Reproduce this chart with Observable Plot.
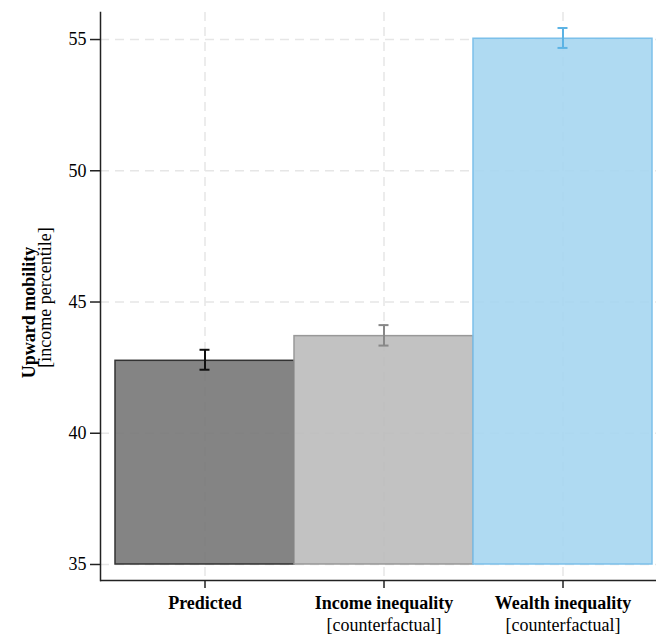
<!DOCTYPE html>
<html>
<head>
<meta charset="utf-8">
<script src="https://cdn.jsdelivr.net/npm/d3@7"></script>
<script src="https://cdn.jsdelivr.net/npm/@observablehq/plot@0.6"></script>
<style>
  html, body { margin: 0; padding: 0; background: #fff; }
  #chart svg { display: block; }
  #chart svg text { font-family: "Liberation Serif", "Times New Roman", serif; }
</style>
</head>
<body>
<div id="chart"></div>
<script>
// Upward mobility: model prediction vs. two counterfactual scenarios
const categories = ["Predicted", "Income inequality", "Wealth inequality"];
const subLabels = ["", "[counterfactual]", "[counterfactual]"];
const estimates = [42.76, 43.70, 55.03];
const lower = [42.42, 43.34, 54.68];
const upper = [43.18, 44.12, 55.44];
const yTicks = [35, 40, 45, 50, 55];

const fills = ["#777777", "#bbbbbb", "#a6d6f1"];
const strokes = ["#333333", "#999999", "#7cc0ea"];
const errColors = ["#111111", "#888888", "#5cb3e4"];

const rows = categories.map((c, i) => ({
  category: c,
  value: estimates[i],
  lo: lower[i],
  hi: upper[i],
  fill: fills[i],
  stroke: strokes[i],
  err: errColors[i]
}));

const subByCat = new Map(categories.map((c, i) => [c, subLabels[i]]));
const yMin = 34.39, yMax = 56.03;

const chart = Plot.plot({
  width: 656,
  height: 634,
  marginTop: 12,
  marginBottom: 54,
  marginLeft: 100,
  marginRight: 0,
  style: { fontFamily: "'Liberation Serif', 'Times New Roman', serif", fontSize: "18px", color: "#000", background: "#fff" },
  x: { domain: categories, padding: 0, insetLeft: 15, insetRight: 4, label: null },
  y: { domain: [yMin, yMax], ticks: yTicks, label: null },
  marks: [
    Plot.gridY(yTicks, { stroke: "#e6e6e6", strokeOpacity: 1, strokeWidth: 1.5, strokeDasharray: "9,6" }),
    Plot.gridX(categories, { stroke: "#e6e6e6", strokeOpacity: 1, strokeWidth: 1.5, strokeDasharray: "9,6" }),
    Plot.barY(rows, {
      x: "category", y1: 35, y2: "value",
      fill: d => d.fill, fillOpacity: 0.9,
      stroke: d => d.stroke, strokeWidth: 1.5
    }),
    Plot.ruleX(rows, { x: "category", y1: "lo", y2: "hi", stroke: d => d.err, strokeWidth: 2 }),
    Plot.tickY(rows, { x: "category", y: "lo", stroke: d => d.err, strokeWidth: 2, insetLeft: 84.5, insetRight: 84.5 }),
    Plot.tickY(rows, { x: "category", y: "hi", stroke: d => d.err, strokeWidth: 2, insetLeft: 84.5, insetRight: 84.5 }),
    Plot.ruleY([yMin], { stroke: "#222", strokeWidth: 1.5 }),
    Plot.frame({ anchor: "left", stroke: "#222", strokeWidth: 1.5 }),
    Plot.axisY(yTicks, { tickSize: 10, tickPadding: 4, stroke: "#222", strokeWidth: 1.5, fill: "#000", fontSize: 18 }),
    // category name (bold) with an optional second line underneath
    Plot.axisX({
      tickSize: 8, tickPadding: 6, stroke: "#222", strokeWidth: 1.5, fill: "#000",
      fontWeight: "bold", fontSize: 18, lineHeight: 1.17,
      tickFormat: c => subByCat.get(c) ? c + "\n" + subByCat.get(c) : c
    }),
    Plot.text(["Upward mobility"], { frameAnchor: "left", rotate: -90, dx: -71, dy: 16, fontWeight: "bold", fontSize: 18, fill: "#000", textAnchor: "middle" }),
    Plot.text(["[income percentile]"], { frameAnchor: "left", rotate: -90, dx: -55, dy: 1, fontSize: 18, fill: "#000", textAnchor: "middle" })
  ]
});

// second line of each x tick label is set in regular weight
d3.select(chart).selectAll("text tspan").each(function () {
  if (this.previousElementSibling) d3.select(this).attr("font-weight", "normal");
});

document.getElementById("chart").appendChild(chart);
</script>
</body>
</html>
